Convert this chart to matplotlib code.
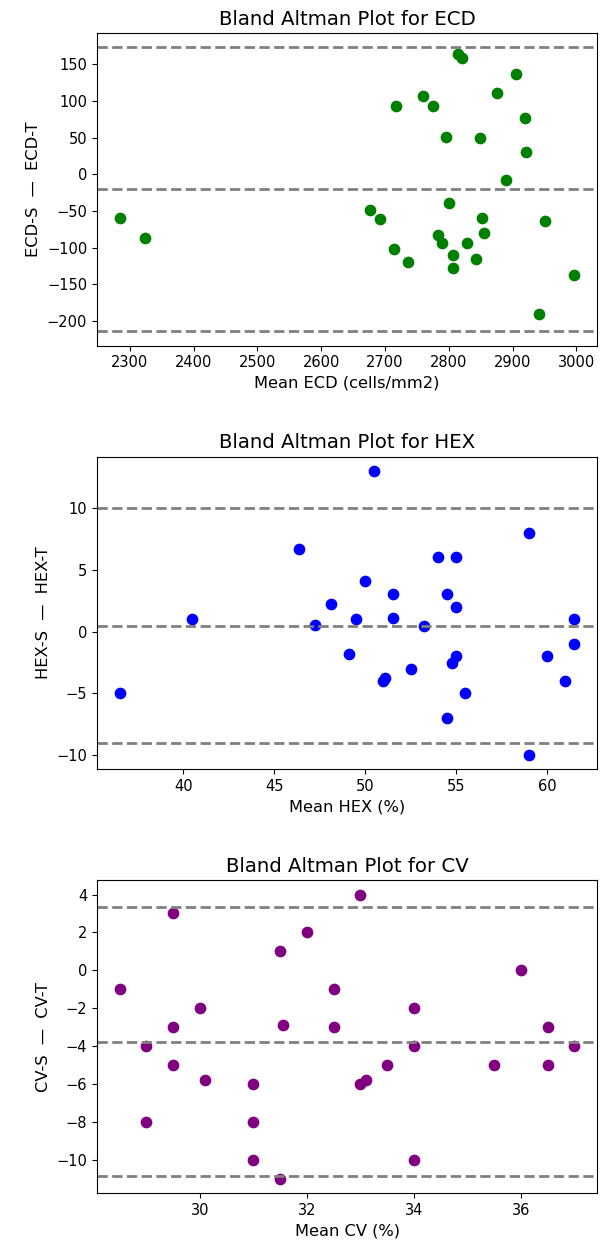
import matplotlib
matplotlib.use("Agg")
import matplotlib.pyplot as plt

# ECD: mean of the two methods vs difference (S - T)
ecd_mean = [2815, 2821, 2906, 2759, 2875, 2717, 2775, 2919, 2796, 2849, 2921, 2890,
            2284, 2324, 2677, 2692, 2714, 2736, 2801, 2783, 2789, 2807, 2806, 2829,
            2842, 2852, 2855, 2951, 2997, 2941]
ecd_diff = [164, 158, 136, 107, 111, 93, 93, 76, 51, 50, 30, -8,
            -60, -87, -49, -61, -102, -119, -39, -83, -93, -110, -128, -93,
            -115, -59, -80, -63, -137, -190]
ecd_lines = [173, -20.5, -214]

# HEX
hex_mean = [36.5, 40.5, 46.35, 47.25, 48.1, 49.1, 49.5, 50.0, 50.5, 51.0, 51.1, 51.5,
            51.55, 52.5, 53.25, 54.0, 54.5, 54.5, 54.75, 55.0, 55.0, 55.0, 55.5, 59.0,
            59.0, 60.0, 61.0, 61.5, 61.5]
hex_diff = [-5, 1, 6.7, 0.5, 2.2, -1.85, 1, 4.1, 13, -4.0, -3.8, 3,
            1.1, -3, 0.45, 6, 3, -7, -2.55, 6, 2, -2, -5, 8,
            -10, -2, -4, 1, -1]
hex_lines = [9.98, 0.46, -9.05]

# CV
cv_mean = [28.5, 29.0, 29.0, 29.5, 29.5, 29.5, 30.0, 30.1, 31.0, 31.0, 31.0, 31.5,
           31.5, 31.55, 32.0, 32.5, 32.5, 33.0, 33.0, 33.1, 33.5, 34.0, 34.0, 34.0,
           35.5, 36.0, 36.5, 36.5, 37.0]
cv_diff = [-1, -4, -8, 3, -3, -5, -2, -5.8, -6, -8, -10, -11,
           1, -2.9, 2, -1, -3, 4, -6, -5.8, -5, -2, -4, -10,
           -5, 0, -3, -5, -4]
cv_lines = [3.34, -3.76, -10.86]

panels = [
    ("ECD", ecd_mean, ecd_diff, ecd_lines, "green", "Mean ECD (cells/mm2)"),
    ("HEX", hex_mean, hex_diff, hex_lines, "blue", "Mean HEX (%)"),
    ("CV", cv_mean, cv_diff, cv_lines, "purple", "Mean CV (%)"),
]

fig, axes = plt.subplots(3, 1, figsize=(6.02, 12.45), dpi=100)
plt.subplots_adjust(left=0.161, right=0.992, top=0.9735, bottom=0.0418, hspace=0.355)

for ax, (name, m, d, lines, color, xlabel) in zip(axes, panels):
    ax.scatter(m, d, color=color, s=55)
    for val in lines:
        ax.axhline(val, color='gray', linestyle='--', linewidth=2)
    ax.set_title(f'Bland Altman Plot for {name}', fontsize=14.2)
    ax.set_xlabel(xlabel, fontsize=11.7)
    ax.set_ylabel(f'{name}-S  —  {name}-T', fontsize=11.7)
    ax.tick_params(labelsize=10.5)

fig.savefig("out.png", dpi=100)
